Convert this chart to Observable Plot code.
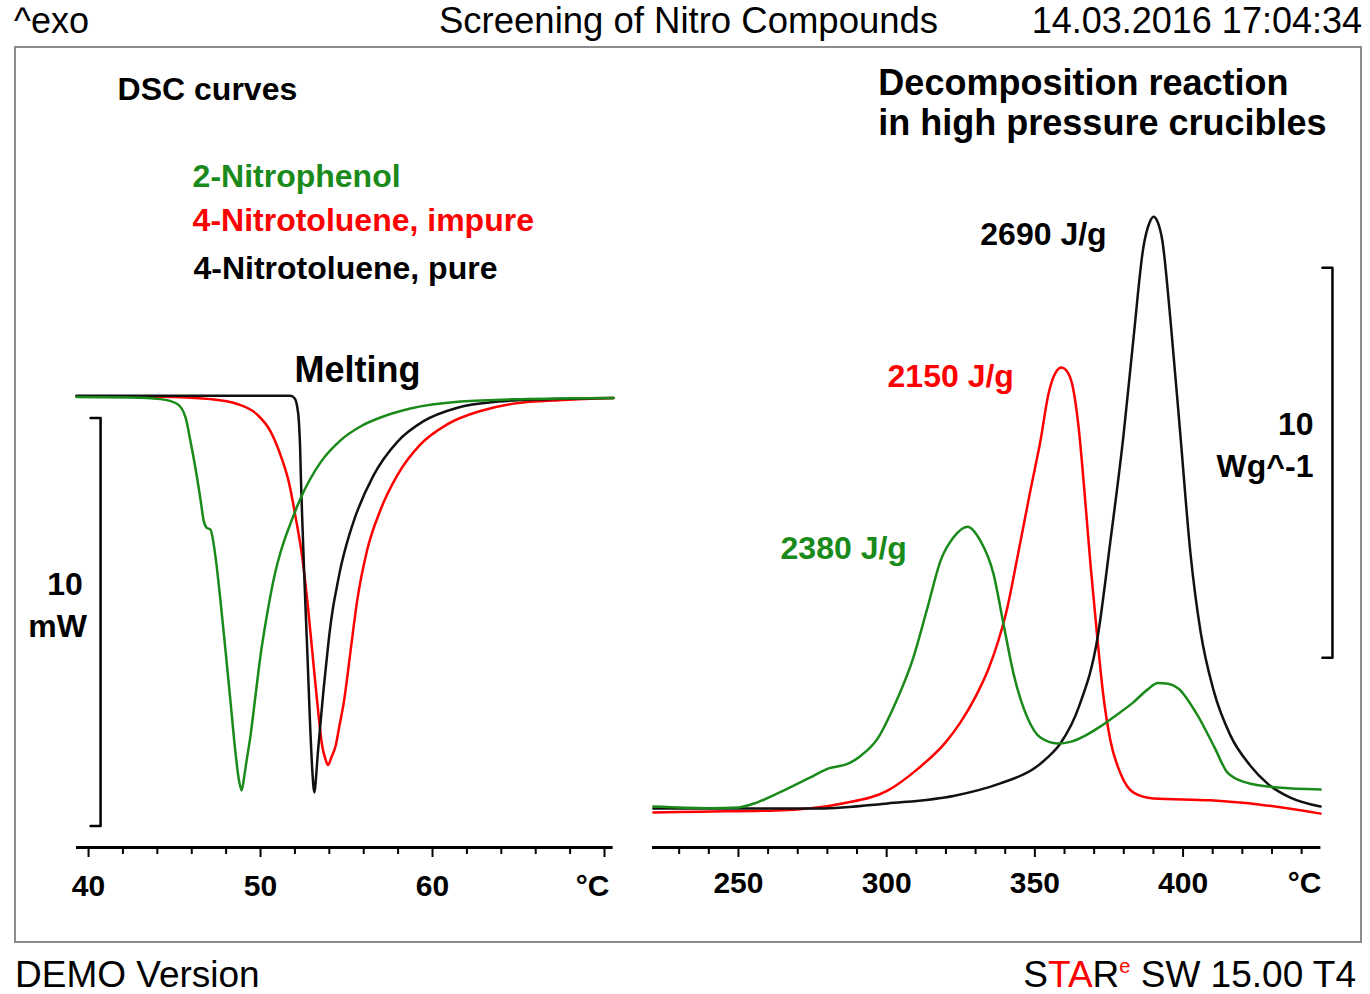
<!DOCTYPE html>
<html>
<head>
<meta charset="utf-8">
<script src="https://cdn.jsdelivr.net/npm/d3@7"></script>
<script src="https://cdn.jsdelivr.net/npm/@observablehq/plot@0.6"></script>
<style>
  body { margin: 0; background: #fff; font-family: "Liberation Sans", Arial, sans-serif; }
  #page { position: relative; width: 1370px; height: 994px; overflow: hidden; background: #fff; }
  .txt { position: absolute; font-size: 36px; line-height: 42px; color: #000; white-space: nowrap; }
  #frame { position: absolute; left: 14px; top: 46px; width: 1348px; height: 897px; box-sizing: border-box;
           border: 2px solid #8c8c8c; display: flex; }
  #frame svg { display: block; overflow: visible; }
</style>
</head>
<body>
<div id="page">
  <div class="txt" style="left:14px; top:0px;">^exo</div>
  <div class="txt" style="left:439px; top:0px; font-size:36.5px;">Screening of Nitro Compounds</div>
  <div class="txt" style="right:8px; top:0px;">14.03.2016 17:04:34</div>
  <div id="frame"></div>
  <div class="txt" style="left:15px; top:954px; font-size:37px;">DEMO Version</div>
  <div class="txt" style="right:14px; top:954px; font-size:37px;">S<span style="color:#ff0000">TA</span>R<span style="color:#ff0000; font-size:20px; position:relative; top:-14px;">e</span> SW 15.00 T4</div>
</div>
<script>
// ---------- data ----------
const seriesNames = ["2-Nitrophenol", "4-Nitrotoluene, impure", "4-Nitrotoluene, pure"];
const seriesColors = ["#1a8a1a", "#ff0000", "#111111"];

// Melting (left), temperature °C, heat flow mW
const nitrophenolMelt = [[39.3,0.01],[42.44,0.0],[44.19,-0.04],[45.16,-0.16],[45.64,-0.49],[45.93,-1.08],[46.22,-1.74],[46.51,-2.50],[46.70,-3.03],[46.86,-3.19],[47.09,-3.24],[47.38,-3.90],[47.67,-4.98],[47.97,-6.23],[48.26,-7.48],[48.55,-8.73],[48.72,-9.31],[48.90,-9.63],[49.07,-9.24],[49.19,-8.90],[49.42,-8.28],[49.71,-7.30],[50.00,-6.32],[50.29,-5.54],[50.58,-4.85],[50.87,-4.26],[51.16,-3.80],[51.74,-3.09],[52.33,-2.47],[53.49,-1.59],[54.65,-1.05],[55.81,-0.71],[56.98,-0.49],[58.72,-0.27],[61.63,-0.10],[65.12,-0.04],[70.52,-0.01]];
const impureMelt = [[39.3,0.03],[44.19,0.02],[47.09,-0.04],[48.65,-0.16],[49.81,-0.42],[50.58,-0.83],[51.16,-1.41],[51.65,-2.08],[52.03,-2.91],[52.42,-3.90],[52.72,-4.98],[53.01,-6.23],[53.30,-7.48],[53.59,-8.55],[53.78,-8.87],[53.92,-9.01],[54.12,-8.82],[54.36,-8.55],[54.59,-8.04],[54.84,-7.48],[55.23,-6.23],[55.62,-4.98],[56.20,-3.74],[56.98,-2.75],[57.95,-1.91],[59.30,-1.15],[60.85,-0.66],[62.79,-0.33],[64.71,-0.15],[67.62,-0.06],[70.52,-0.01]];
const pureMelt = [[39.3,0.04],[51.74,0.04],[51.98,-0.02],[52.12,-0.20],[52.23,-0.58],[52.30,-1.20],[52.35,-2.0],[52.42,-2.91],[52.56,-4.56],[52.72,-6.23],[52.87,-7.89],[53.01,-9.14],[53.08,-9.55],[53.14,-9.68],[53.21,-9.40],[53.33,-8.73],[53.49,-7.97],[53.66,-7.18],[53.84,-6.45],[54.01,-5.78],[54.19,-5.22],[54.42,-4.68],[54.65,-4.19],[55.00,-3.60],[55.41,-3.04],[56.57,-1.91],[57.97,-1.08],[59.48,-0.58],[61.45,-0.25],[63.78,-0.10],[66.69,-0.04],[70.52,-0.01]];

// Decomposition (right), temperature °C, W/g
const nitrophenolDecomp = [[221.3,0.10],[240,0.06],[250,0.08],[256.4,0.21],[265.2,0.51],[274.3,0.85],[280.4,1.08],[287,1.20],[291.2,1.40],[297,1.85],[302.3,2.64],[309.0,3.92],[313.8,5.21],[318.2,6.41],[322.5,7.0],[327.3,7.28],[331.6,6.92],[336.0,6.08],[339.4,4.79],[342.8,3.51],[347.5,2.38],[351.9,1.87],[357.6,1.72],[362.0,1.76],[367.0,1.92],[372.0,2.15],[377.0,2.42],[383.0,2.76],[388.0,3.10],[391.5,3.27],[395.0,3.25],[398.4,3.13],[404.5,2.49],[410.6,1.62],[415.0,0.97],[421.1,0.72],[431.8,0.59],[446.4,0.54]];
const impureDecomp = [[221.3,-0.05],[237.2,-0.03],[262.5,0.00],[285.1,0.18],[300.3,0.51],[310.7,1.08],[319.8,1.74],[324.9,2.26],[330.0,2.92],[334.4,3.64],[337.7,4.36],[340.4,5.10],[344.1,6.49],[348.5,8.21],[351.9,9.49],[354.6,10.69],[357.0,11.23],[359.0,11.36],[360.7,11.28],[362.7,10.90],[364.7,9.87],[366.7,8.21],[368.8,6.28],[371.1,4.41],[373.1,2.95],[375.5,1.79],[378.9,0.95],[383.3,0.46],[390.0,0.31],[409.2,0.26],[426.1,0.15],[446.4,-0.08]];
const pureDecomp = [[221.3,0.05],[254.0,0.05],[277.3,0.05],[300.3,0.18],[322.9,0.38],[338.1,0.69],[350.2,1.10],[354.3,1.36],[358.6,1.72],[365.0,2.69],[371.1,4.41],[375.5,6.92],[379.9,9.62],[383.3,12.13],[386.6,14.44],[388.7,15.08],[390.0,15.23],[391.4,15.10],[393.0,14.62],[395.7,12.62],[399.1,9.62],[402.5,6.59],[405.9,4.59],[410.3,3.08],[416.0,1.92],[422.7,1.15],[428.5,0.69],[436.2,0.33],[446.4,0.10]];

// axes
const leftDomainX = [39.3, 70.5];
const leftDomainY = [-11.03, 8.064];
const rightDomainX = [221, 446.5];
const rightDomainY = [-0.949, 19.03];
const leftMajorTicks = [40, 50, 60, 70];
const leftMinorTicks = [42, 44, 46, 48, 52, 54, 56, 58, 62, 64, 66, 68];
const rightMajorTicks = [250, 300, 350, 400];
const rightMinorTicks = [230, 240, 260, 270, 280, 290, 310, 320, 330, 340, 360, 370, 380, 390, 410, 420, 430, 440];
const unitLabel = "°C";

// scale bars (10 mW, 10 W/g)
const leftScaleBar = [{x:40.12,y:-0.5},{x:40.70,y:-0.5},{x:40.70,y:-10.5},{x:40.12,y:-10.5}];
const rightScaleBar = [{x:447.0,y:13.92},{x:450.4,y:13.92},{x:450.4,y:3.92},{x:447.0,y:3.92}];

// annotations
const leftTitles = [
  {x:41.69, y:7.28, text:"DSC curves", color:"#000", size:32},
  {x:46.05, y:5.17, text:"2-Nitrophenol", color:seriesColors[0], size:32},
  {x:46.05, y:4.09, text:"4-Nitrotoluene, impure", color:seriesColors[1], size:32},
  {x:46.10, y:2.90, text:"4-Nitrotoluene, pure", color:"#000", size:32},
  {x:51.97, y:0.37, text:"Melting", color:"#000", size:36}
];
const leftBarLabels = [{x:38.63, y:-4.85, text:"10"},{x:38.20, y:-5.88, text:"mW"}];
const rightTitles = [
  {x:297.2, y:18.36, text:"Decomposition reaction", color:"#000"},
  {x:297.2, y:17.33, text:"in high pressure crucibles", color:"#000"}
];
const rightPeakLabels = [
  {x:331.6, y:14.51, text:"2690 J/g", color:"#000"},
  {x:300.3, y:10.87, text:"2150 J/g", color:seriesColors[1]},
  {x:264.2, y:6.44, text:"2380 J/g", color:seriesColors[0]}
];
const rightBarLabels = [{x:444.0, y:9.64, text:"10"},{x:444.0, y:8.56, text:"Wg^-1"}];

// ---------- build ----------
const toRows = (name, pts) => pts.map(([T, v]) => ({series: name, T, v}));
const meltRows = [
  ...toRows(seriesNames[1], impureMelt),
  ...toRows(seriesNames[2], pureMelt),
  ...toRows(seriesNames[0], nitrophenolMelt)
];
const decompRows = [
  ...toRows(seriesNames[1], impureDecomp),
  ...toRows(seriesNames[2], pureDecomp),
  ...toRows(seriesNames[0], nitrophenolDecomp)
];
const FONT = "Liberation Sans, Arial, sans-serif";
const H = 893;

const left = Plot.plot({
  width: 624, height: H,
  marginLeft: 60, marginRight: 27.4, marginTop: 20, marginBottom: 94,
  style: {fontFamily: FONT, fontSize: "32px", fontWeight: "bold", background: "transparent", overflow: "visible"},
  x: {domain: leftDomainX, axis: null},
  y: {domain: leftDomainY, axis: null},
  color: {domain: seriesNames, range: seriesColors},
  marks: [
    Plot.ruleY([leftDomainY[0]], {x1: leftDomainX[0], x2: leftDomainX[1], strokeWidth: 3}),
    Plot.axisX({ticks: leftMinorTicks, tickSize: 7, strokeWidth: 2, fill: "none", label: null}),
    Plot.axisX({ticks: leftMajorTicks, tickSize: 10, tickPadding: 17, strokeWidth: 2, label: null,
      tickFormat: d => d === 70 ? "" : String(d), fontSize: 30, fontWeight: "bold", fontFamily: FONT}),
    Plot.text([unitLabel], {x: 70, y: leftDomainY[0], text: d => d, textAnchor: "end", lineAnchor: "top",
      dx: 5, dy: 27, fontSize: 30, fontWeight: "bold", fontFamily: FONT}),
    Plot.line(leftScaleBar, {x: "x", y: "y", stroke: "#000", strokeWidth: 2.5}),
    Plot.text(leftBarLabels, {x: "x", y: "y", text: "text", textAnchor: "middle", lineAnchor: "bottom",
      fontSize: 32, fontWeight: "bold", fontFamily: FONT}),
    Plot.line(meltRows, {x: "T", y: "v", z: "series", stroke: "series", strokeWidth: 2.5, curve: "monotone-x"}),
    Plot.text(leftTitles, {x: "x", y: "y", text: "text", fill: "color", fontSize: "size", textAnchor: "start",
      lineAnchor: "bottom", fontWeight: "bold", fontFamily: FONT})
  ]
});

const right = Plot.plot({
  width: 720, height: H,
  marginLeft: 12, marginRight: 39.6, marginTop: 20, marginBottom: 94,
  style: {fontFamily: FONT, fontSize: "32px", fontWeight: "bold", background: "transparent", overflow: "visible"},
  x: {domain: rightDomainX, axis: null},
  y: {domain: rightDomainY, axis: null},
  color: {domain: seriesNames, range: seriesColors},
  marks: [
    Plot.ruleY([rightDomainY[0]], {x1: rightDomainX[0], x2: rightDomainX[1], strokeWidth: 3}),
    Plot.axisX({ticks: rightMinorTicks, tickSize: 7, strokeWidth: 2, fill: "none", label: null}),
    Plot.axisX({ticks: rightMajorTicks, tickSize: 10, tickPadding: 14, strokeWidth: 2, label: null,
      tickFormat: d => String(d), fontSize: 30, fontWeight: "bold", fontFamily: FONT}),
    Plot.text([unitLabel], {x: 440, y: rightDomainY[0], text: d => d, textAnchor: "middle", lineAnchor: "top",
      dx: 3, dy: 24, fontSize: 30, fontWeight: "bold", fontFamily: FONT}),
    Plot.line(rightScaleBar, {x: "x", y: "y", stroke: "#000", strokeWidth: 2.5}),
    Plot.text(rightBarLabels, {x: "x", y: "y", text: "text", textAnchor: "end", lineAnchor: "bottom",
      fontSize: 32, fontWeight: "bold", fontFamily: FONT}),
    Plot.line(decompRows, {x: "T", y: "v", z: "series", stroke: "series", strokeWidth: 2.5, curve: "monotone-x"}),
    Plot.text(rightTitles, {x: "x", y: "y", text: "text", fill: "color", textAnchor: "start", lineAnchor: "bottom",
      fontSize: 36, fontWeight: "bold", fontFamily: FONT}),
    Plot.text(rightPeakLabels, {x: "x", y: "y", text: "text", fill: "color", textAnchor: "start", lineAnchor: "bottom",
      fontSize: 32, fontWeight: "bold", fontFamily: FONT})
  ]
});

document.getElementById("frame").append(left, right);
</script>
</body>
</html>
